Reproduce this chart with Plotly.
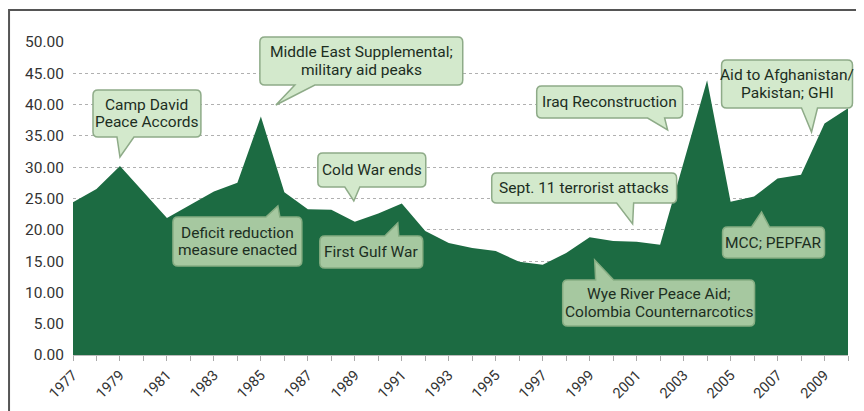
import plotly.graph_objects as go

# ---------------- data ----------------
years = list(range(1977, 2011))
aid_values = [24.4, 26.5, 30.2, 26.0, 21.9, 24.0, 26.1, 27.5, 38.1, 26.0,
              23.3, 23.2, 21.3, 22.6, 24.2, 19.8, 17.9, 17.1, 16.6, 14.9,
              14.4, 16.3, 18.8, 18.2, 18.1, 17.6, 30.8, 43.9, 24.5, 25.3,
              28.2, 28.8, 37.0, 39.4]
tick_years = list(range(1977, 2010, 2))
tick_labels = [str(y) for y in tick_years]
y_ticks = [0, 5, 10, 15, 20, 25, 30, 35, 40, 45, 50]

# callout texts
callout_texts = [
    ["Camp David", "Peace Accords"],
    ["Middle East Supplemental;", "military aid peaks"],
    ["Cold War ends"],
    ["Deficit reduction", "measure enacted"],
    ["First Gulf War"],
    ["Sept. 11 terrorist attacks"],
    ["Iraq Reconstruction"],
    ["Aid to Afghanistan/", "Pakistan; GHI"],
    ["MCC; PEPFAR"],
    ["Wye River Peace Aid;", "Colombia Counternarcotics"],
]

# ---------------- layout geometry ----------------
# the page body has an 8px margin, so the figure is drawn 8px smaller
OFF = 8
W, H = 864 - OFF, 411 - OFF
L, R, T, B = 73 - OFF, 15.5, 42 - OFF, 56
PW, PH = W - L - R, H - T - B


def pxx(x):  # screen pixel x -> paper
    return (x - OFF - L) / PW


def pxy(y):  # screen pixel y -> paper
    return (H - B - (y - OFF)) / PH


# box: x0, x1, y0, y1 ; tail base (xa, xb) ; side ; tip (tx, ty); on_green
callout_geom = [
    (93, 201, 90, 137, 117, 134, "bottom", 120, 157, False),
    (260, 463, 37, 85, 295, 315, "bottom", 276, 105, False),
    (318, 426, 153, 187, 345, 360, "bottom", 354, 201, False),
    (173, 302, 217, 266, 266, 280, "top", 278, 206, True),
    (320, 423, 236, 268, 385, 399, "top", 398, 223, True),
    (492, 677, 173, 203, 617, 634, "bottom", 633, 224, False),
    (537, 683, 86, 118, 648, 665, "bottom", 668, 130, False),
    (722, 853, 60, 108, 802, 818, "bottom", 812, 132, False),
    (723, 825, 227, 258, 752, 770, "top", 762, 212, True),
    (563, 755, 280, 326, 596, 614, "top", 595, 260, True),
]

GREEN = "#1c6b42"
FILL_WHITE = "#d3e9cc"
FILL_GREEN = "#a6c8a0"
BORDER_WHITE = "#8eab88"
BORDER_GREEN = "#86ad82"
TEXT_COLOR = "#1c2e1f"
FONT = "Roboto, Liberation Sans, sans-serif"

fig = go.Figure()
fig.add_trace(go.Scatter(
    x=years, y=aid_values, mode="lines", fill="tozeroy",
    fillcolor=GREEN, line=dict(width=0, color=GREEN), hoverinfo="x+y",
    showlegend=False,
))


def callout_path(g):
    x0, x1, y0, y1, xa, xb, side, tx, ty = g[:9]
    r = 5
    P = lambda x, y: f"{pxx(x):.5f},{pxy(y):.5f}"
    d = f"M {P(x0 + r, y0)} "
    if side == "top":
        d += f"L {P(xa, y0)} L {P(tx, ty)} L {P(xb, y0)} "
    d += f"L {P(x1 - r, y0)} Q {P(x1, y0)} {P(x1, y0 + r)} "
    d += f"L {P(x1, y1 - r)} Q {P(x1, y1)} {P(x1 - r, y1)} "
    if side == "bottom":
        d += f"L {P(xb, y1)} L {P(tx, ty)} L {P(xa, y1)} "
    d += f"L {P(x0 + r, y1)} Q {P(x0, y1)} {P(x0, y1 - r)} "
    d += f"L {P(x0, y0 + r)} Q {P(x0, y0)} {P(x0 + r, y0)} Z"
    return d


shapes = []
annotations = []
for texts, g in zip(callout_texts, callout_geom):
    on_green = g[9]
    shapes.append(dict(
        type="path", xref="paper", yref="paper", path=callout_path(g),
        fillcolor=FILL_GREEN if on_green else FILL_WHITE,
        line=dict(color=BORDER_GREEN if on_green else BORDER_WHITE, width=1.5),
        layer="above",
    ))
    x0, x1, y0, y1 = g[0], g[1], g[2], g[3]
    cx = (x0 + x1) / 2
    cy = (y0 + y1) / 2
    n = len(texts)
    spacing = 18
    for i, t in enumerate(texts):
        ly = cy + (i - (n - 1) / 2) * spacing
        annotations.append(dict(
            x=pxx(cx), y=pxy(ly), xref="paper", yref="paper",
            xanchor="center", yanchor="middle", text=t, showarrow=False,
            font=dict(family=FONT, size=15.5, color=TEXT_COLOR),
        ))

# outer frame
shapes.append(dict(
    type="rect", xref="paper", yref="paper",
    x0=pxx(9), x1=pxx(860), y0=pxy(10), y1=pxy(440),
    line=dict(color="#555555", width=2), fillcolor="rgba(0,0,0,0)", layer="below",
))

fig.update_layout(
    width=W, height=H,
    margin=dict(l=L, r=R, t=T, b=B, autoexpand=False),
    paper_bgcolor="white", plot_bgcolor="white",
    shapes=shapes, annotations=annotations,
    showlegend=False,
    xaxis=dict(
        range=[1977, 2010], tickvals=tick_years, ticktext=tick_labels,
        tickangle=-45, ticks="outside", ticklen=5, tickcolor="#aaaaaa",
        showline=True, linecolor="#bbbbbb", linewidth=1, showgrid=False,
        zeroline=False, automargin=False,
        tickfont=dict(family=FONT, size=14.5, color="#333333"),
        minor=dict(ticks="outside", ticklen=5, tickcolor="#aaaaaa", dtick=1,
                   tick0=1977, showgrid=False),
    ),
    yaxis=dict(
        range=[0, 50], tickvals=y_ticks, tickformat=".2f",
        showgrid=True, gridcolor="#b0b0b0", griddash="dot", gridwidth=1,
        zeroline=False, showline=False, ticks="", ticklabelstandoff=8,
        automargin=False,
        tickfont=dict(family=FONT, size=15.5, color="#333333"),
    ),
)

fig.write_html("out.html")
